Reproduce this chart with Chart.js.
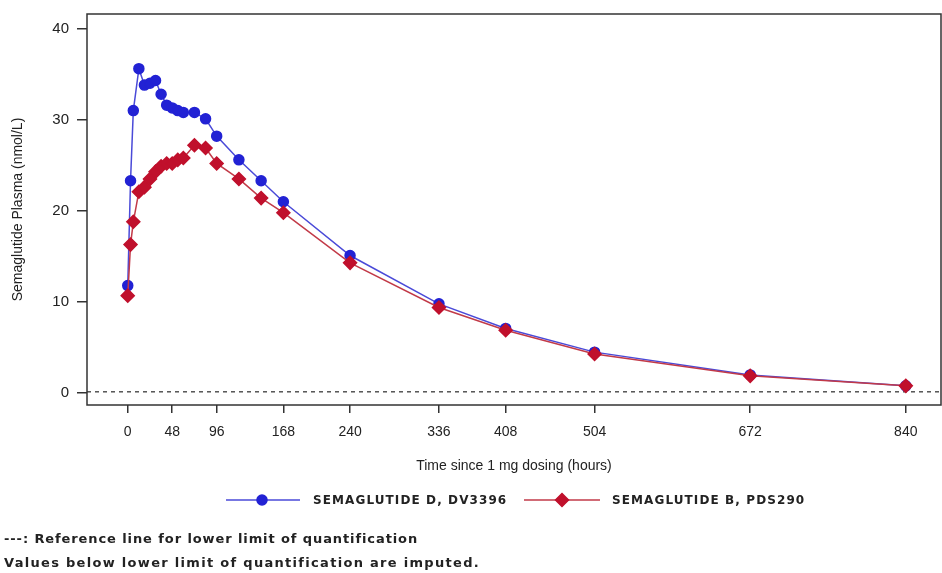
<!DOCTYPE html>
<html>
<head>
<meta charset="utf-8">
<script src="https://cdn.jsdelivr.net/npm/chart.js@4.4.1/dist/chart.umd.min.js"></script>
<style>
  html, body { margin: 0; padding: 0; background: #fff; }
  #wrap { width: 942px; height: 573px; }
</style>
</head>
<body>
<div id="wrap"><canvas id="pk" width="942" height="573"></canvas></div>
<script>
// sampling times (hours) and mean concentrations (nmol/L)
const hours = [0, 3, 6, 12, 18, 24, 30, 36, 42, 48, 54, 60, 72, 84, 96, 120, 144, 168, 240, 336, 408, 504, 672, 840];
const dv3396 = [11.8, 23.3, 31.0, 35.6, 33.8, 34.0, 34.3, 32.8, 31.6, 31.3, 31.0, 30.8, 30.8, 30.1, 28.2, 25.6, 23.3, 21.0, 15.1, 9.8, 7.1, 4.5, 2.0, 0.8];
const pds290 = [10.7, 16.3, 18.8, 22.1, 22.6, 23.5, 24.3, 24.9, 25.2, 25.2, 25.6, 25.8, 27.2, 26.9, 25.2, 23.5, 21.4, 19.8, 14.3, 9.4, 6.9, 4.3, 1.9, 0.8];
const seriesNames = ["SEMAGLUTIDE D, DV3396", "SEMAGLUTIDE B, PDS290"];
const xTicks = [0, 48, 96, 168, 240, 336, 408, 504, 672, 840];
const yTicks = [0, 10, 20, 30, 40];
const lloq = 0.15;
const footnotes = [
    "---: Reference line for lower limit of quantification",
    "Values below lower limit of quantification are imputed."
];

const xMin = -44, xMax = 878;

function pts(vals) {
    return hours.map(function (h, i) { return { x: h, y: vals[i] }; });
}

// frame box + legend + footnotes
const extras = {
    id: 'extras',
    afterDraw: function (chart) {
        const ctx = chart.ctx;
        const a = chart.chartArea;
        ctx.save();
        ctx.strokeStyle = '#333';
        ctx.lineWidth = 1.5;
        ctx.strokeRect(a.left, a.top, a.right - a.left, a.bottom - a.top);

        // legend
        const ly = 500;
        const items = [
            { x1: 226, x2: 300, mx: 262, tx: 313, ds: chart.data.datasets[0] },
            { x1: 524, x2: 600, mx: 562, tx: 612, ds: chart.data.datasets[1] }
        ];
        items.forEach(function (it, i) {
            ctx.strokeStyle = it.ds.borderColor;
            ctx.lineWidth = 1.5;
            ctx.beginPath();
            ctx.moveTo(it.x1, ly);
            ctx.lineTo(it.x2, ly);
            ctx.stroke();
            ctx.fillStyle = it.ds.pointBackgroundColor;
            ctx.strokeStyle = it.ds.pointBorderColor;
            Chart.helpers.drawPoint(ctx, {
                pointStyle: it.ds.pointStyle,
                radius: it.ds.pointRadius,
                borderWidth: 1
            }, it.mx, ly);
            ctx.fillStyle = '#222';
            ctx.font = 'bold 12px "DejaVu Sans"';
            ctx.letterSpacing = '1.1px';
            ctx.textBaseline = 'middle';
            ctx.textAlign = 'left';
            ctx.fillText(seriesNames[i], it.tx, ly + 1);
        });

        // footnotes
        ctx.fillStyle = '#222';
        ctx.font = 'bold 13px "DejaVu Sans"';
        ctx.letterSpacing = '0.9px';
        ctx.textBaseline = 'middle';
        ctx.fillText(footnotes[0], 4, 540);
        ctx.letterSpacing = '1.3px';
        ctx.fillText(footnotes[1], 4, 564);
        ctx.restore();
    }
};

const ctx = document.getElementById('pk');

new Chart(ctx, {
    type: 'scatter',
    data: {
        datasets: [{
            label: seriesNames[0],
            data: pts(dv3396),
            showLine: true,
            borderColor: '#4a4ad8',
            borderWidth: 1.5,
            pointStyle: 'circle',
            pointRadius: 5,
            pointBackgroundColor: '#2222d4',
            pointBorderColor: '#2222d4',
            order: 1
        }, {
            label: seriesNames[1],
            data: pts(pds290),
            showLine: true,
            borderColor: '#c23a48',
            borderWidth: 1.5,
            pointStyle: 'rectRot',
            pointRadius: 6.5,
            pointBackgroundColor: '#c0102c',
            pointBorderColor: '#c0102c',
            order: 0
        }, {
            label: 'LLOQ',
            data: [{ x: xMin, y: lloq }, { x: xMax, y: lloq }],
            showLine: true,
            borderColor: '#555',
            borderWidth: 1.5,
            borderDash: [4, 4],
            pointRadius: 0,
            order: 2
        }]
    },
    options: {
        responsive: false,
        animation: false,
        layout: { autoPadding: false, padding: { top: 14, right: 1, left: 0, bottom: 0 } },
        plugins: {
            legend: { display: false },
            tooltip: { enabled: false }
        },
        scales: {
            x: {
                type: 'linear',
                min: xMin,
                max: xMax,
                afterBuildTicks: function (scale) {
                    scale.ticks = xTicks.map(function (v) { return { value: v }; });
                },
                afterFit: function (scale) {
                    scale.height = 168;
                    scale.paddingLeft = 0;
                    scale.paddingRight = 0;
                },
                grid: { drawOnChartArea: false, drawTicks: true, tickLength: 8, color: '#333', lineWidth: 1.5 },
                border: { display: false },
                ticks: { color: '#222', font: { family: 'Liberation Sans', size: 14 }, padding: 11, maxRotation: 0, autoSkip: false },
                title: {
                    display: true,
                    text: 'Time since 1 mg dosing (hours)',
                    color: '#222',
                    font: { family: 'Liberation Sans', size: 14 },
                    padding: { top: 0, bottom: 98 }
                }
            },
            y: {
                min: -1.3,
                max: 41.6,
                afterBuildTicks: function (scale) {
                    scale.ticks = yTicks.map(function (v) { return { value: v }; });
                },
                afterFit: function (scale) {
                    scale.width = 87;
                    scale.paddingTop = 0;
                    scale.paddingBottom = 0;
                },
                grid: { drawOnChartArea: false, drawTicks: true, tickLength: 10, color: '#333', lineWidth: 1.5 },
                border: { display: false },
                ticks: { color: '#222', font: { family: 'Liberation Sans', size: 15 }, padding: 8 },
                title: {
                    display: true,
                    text: 'Semaglutide Plasma (nmol/L)',
                    color: '#222',
                    font: { family: 'Liberation Sans', size: 14 },
                    padding: { top: 10, bottom: 0 }
                }
            }
        }
    },
    plugins: [extras]
});
</script>
</body>
</html>
